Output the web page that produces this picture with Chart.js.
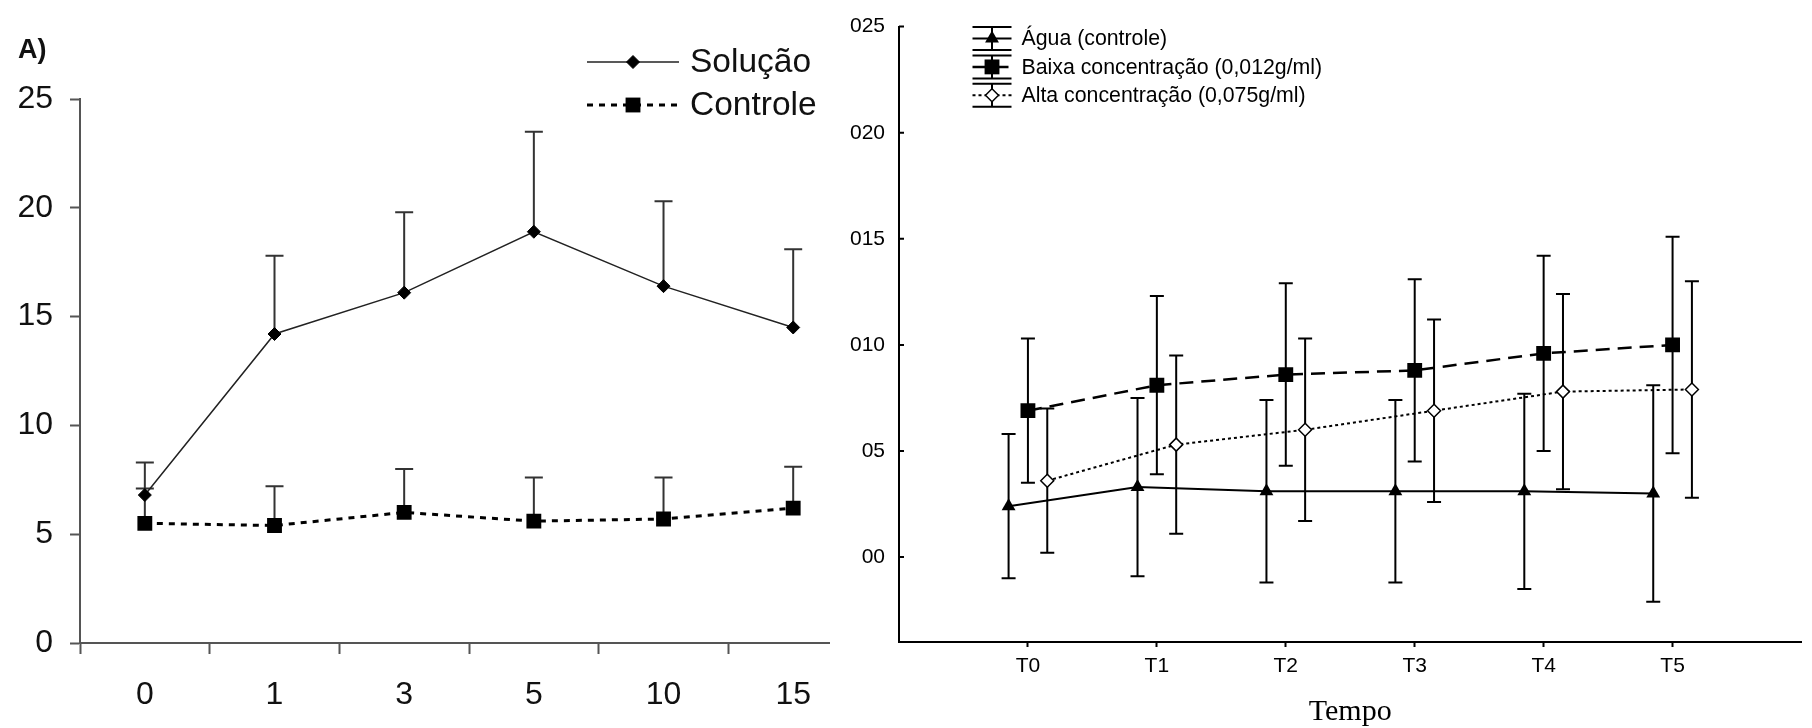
<!DOCTYPE html>
<html>
<head>
<meta charset="utf-8">
<title>Gráficos</title>
<script src="https://cdn.jsdelivr.net/npm/chart.js@4.4.1/dist/chart.umd.min.js"></script>
<style>
  body { margin: 0; background: #fff; }
  #graficoA { position: absolute; left: 0; top: 0; }
  #graficoB { position: absolute; left: 840px; top: 0; }
</style>
</head>
<body>
<canvas id="graficoA" width="840" height="728"></canvas>
<canvas id="graficoB" width="972" height="728"></canvas>
<script>
// Gráfico A (dias)
const diasLabels = ['0', '1', '3', '5', '10', '15'];
const solucao = [6.8, 14.2, 16.1, 18.9, 16.4, 14.5];
const solucaoErro = [1.5, 3.6, 3.7, 4.6, 3.9, 3.6];
const controle = [5.5, 5.4, 6.0, 5.6, 5.7, 6.2];
const controleErro = [1.6, 1.8, 2.0, 2.0, 1.9, 1.9];
const yTicksA = [0, 5, 10, 15, 20, 25];

// Gráfico B (tempos)
const tempos = ['T0', 'T1', 'T2', 'T3', 'T4', 'T5'];
const yTicksB = [0, 5, 10, 15, 20, 25];
const yLabelsB = ['00', '05', '010', '015', '020', '025'];
const agua = [2.4, 3.3, 3.1, 3.1, 3.1, 3.0];
const aguaErro = [3.4, 4.2, 4.3, 4.3, 4.6, 5.1];
const baixa = [6.9, 8.1, 8.6, 8.8, 9.6, 10.0];
const baixaErro = [3.4, 4.2, 4.3, 4.3, 4.6, 5.1];
const alta = [3.6, 5.3, 6.0, 6.9, 7.8, 7.9];
const altaErro = [3.4, 4.2, 4.3, 4.3, 4.6, 5.1];

const fonteSans = '"Liberation Sans", Arial, sans-serif';

// desenha um marcador simples
function marcador(ctx, estilo, r, x, y, fundo, borda, larg) {
    ctx.save();
    ctx.setLineDash([]);
    ctx.fillStyle = fundo;
    ctx.strokeStyle = borda;
    ctx.lineWidth = larg;
    ctx.beginPath();
    if (estilo === 'rect') {
        const s = r * Math.SQRT1_2;
        ctx.rect(x - s, y - s, 2 * s, 2 * s);
    } else if (estilo === 'rectRot') {
        ctx.moveTo(x - r, y); ctx.lineTo(x, y - r); ctx.lineTo(x + r, y); ctx.lineTo(x, y + r);
        ctx.closePath();
    } else {
        ctx.moveTo(x, y - r);
        ctx.lineTo(x + r * 0.866, y + r / 2);
        ctx.lineTo(x - r * 0.866, y + r / 2);
        ctx.closePath();
    }
    ctx.fill();
    if (larg > 0) ctx.stroke();
    ctx.restore();
}

// barras de erro a partir dos dados de cada série
const barrasErro = {
    id: 'barrasErro',
    beforeDatasetsDraw(chart) {
        const ctx = chart.ctx;
        const xs = chart.scales.x;
        const ys = chart.scales.y;
        chart.data.datasets.forEach(ds => {
            if (!ds.erro) return;
            ctx.save();
            ctx.strokeStyle = ds.corErro;
            ctx.lineWidth = 2;
            ds.data.forEach((p, i) => {
                const x = xs.getPixelForValue(p.x);
                const yTop = ys.getPixelForValue(p.y + ds.erro[i]);
                const yBot = ys.getPixelForValue(ds.soSuperior ? p.y : p.y - ds.erro[i]);
                ctx.beginPath();
                ctx.moveTo(x, yTop); ctx.lineTo(x, yBot);
                ctx.moveTo(x - ds.capa, yTop); ctx.lineTo(x + ds.capa, yTop);
                if (!ds.soSuperior) {
                    ctx.moveTo(x - ds.capa, yBot); ctx.lineTo(x + ds.capa, yBot);
                }
                ctx.stroke();
            });
            ctx.restore();
        });
    }
};

// ---------- Gráfico A ----------
const legendaA = {
    id: 'legendaA',
    afterDraw(chart) {
        const ctx = chart.ctx;
        ctx.save();
        ctx.fillStyle = '#111';
        ctx.font = 'bold 27px ' + fonteSans;
        ctx.textBaseline = 'middle';
        ctx.fillText('A)', 18, 51);
        chart.data.datasets.forEach((ds, i) => {
            const y = 62 + i * 43;
            ctx.strokeStyle = ds.borderColor;
            ctx.lineWidth = ds.borderWidth;
            ctx.setLineDash(ds.borderDash || []);
            ctx.beginPath();
            ctx.moveTo(587, y); ctx.lineTo(679, y);
            ctx.stroke();
            marcador(ctx, ds.pointStyle, ds.pointRadius, 633, y, ds.pointBackgroundColor, ds.pointBorderColor, ds.pointBorderWidth);
            ctx.fillStyle = '#111';
            ctx.font = '33.5px ' + fonteSans;
            ctx.fillText(ds.label, 690, y + 1);
        });
        ctx.restore();
    }
};

const ticksXA = diasLabels.flatMap((_, i) => [i - 0.5, i]);

new Chart(document.getElementById('graficoA'), {
    type: 'line',
    data: {
        datasets: [{
            label: 'Solução',
            data: solucao.map((v, i) => ({ x: i, y: v })),
            erro: solucaoErro,
            soSuperior: true,
            corErro: '#333',
            capa: 9,
            borderColor: '#222',
            borderWidth: 1.5,
            pointStyle: 'rectRot',
            pointRadius: 6.5,
            pointBackgroundColor: '#000',
            pointBorderColor: '#000',
            pointBorderWidth: 1,
            tension: 0
        }, {
            label: 'Controle',
            data: controle.map((v, i) => ({ x: i, y: v })),
            erro: controleErro,
            soSuperior: true,
            corErro: '#333',
            capa: 9,
            borderColor: '#000',
            borderWidth: 3,
            borderDash: [6, 6],
            pointStyle: 'rect',
            pointRadius: 10.5,
            pointBackgroundColor: '#000',
            pointBorderColor: '#000',
            pointBorderWidth: 0,
            tension: 0
        }]
    },
    options: {
        responsive: false,
        animation: false,
        layout: { padding: { top: 99, right: 9, left: 0, bottom: 0 } },
        plugins: { legend: { display: false }, tooltip: { enabled: false } },
        scales: {
            x: {
                type: 'linear',
                min: -0.5,
                max: 5.28,
                afterBuildTicks: s => { s.ticks = ticksXA.map(v => ({ value: v })); },
                afterFit: s => { s.height = 85; },
                grid: {
                    drawOnChartArea: false,
                    tickLength: 11,
                    tickWidth: 2,
                    tickColor: c => Number.isInteger(c.tick.value) ? 'rgba(0,0,0,0)' : '#555'
                },
                border: { color: '#555', width: 2 },
                ticks: {
                    autoSkip: false,
                    maxRotation: 0,
                    padding: 22,
                    color: '#111',
                    font: { family: fonteSans, size: 32 },
                    callback: v => Number.isInteger(v) ? diasLabels[v] : ''
                }
            },
            y: {
                min: 0,
                max: 25,
                afterBuildTicks: s => { s.ticks = yTicksA.map(v => ({ value: v })); },
                afterFit: s => { s.width = 80; },
                grid: { drawOnChartArea: false, tickLength: 10, tickWidth: 2, tickColor: '#555' },
                border: { color: '#555', width: 2 },
                ticks: {
                    padding: 17,
                    color: '#111',
                    font: { family: fonteSans, size: 32 }
                }
            }
        }
    },
    plugins: [barrasErro, legendaA]
});

// ---------- Gráfico B ----------
const deslocamento = [-0.15, 0, 0.15];

const legendaB = {
    id: 'legendaB',
    afterDraw(chart) {
        const ctx = chart.ctx;
        ctx.save();
        // pequenos traços para dentro no eixo y
        const ys = chart.scales.y;
        ctx.strokeStyle = '#000';
        ctx.lineWidth = 2;
        ctx.beginPath();
        yTicksB.forEach(v => {
            const y = ys.getPixelForValue(v);
            ctx.moveTo(ys.right, y); ctx.lineTo(ys.right + 5, y);
        });
        ctx.stroke();

        chart.data.datasets.forEach((ds, i) => {
            const y = 38.5 + i * 28.4;
            const cx = 152;
            ctx.strokeStyle = '#000';
            ctx.lineWidth = 2;
            ctx.setLineDash([]);
            ctx.beginPath();
            ctx.moveTo(cx, y - 11.5); ctx.lineTo(cx, y + 11.5);
            ctx.moveTo(cx - 19.5, y - 11.5); ctx.lineTo(cx + 19.5, y - 11.5);
            ctx.moveTo(cx - 19.5, y + 11.5); ctx.lineTo(cx + 19.5, y + 11.5);
            ctx.stroke();
            ctx.lineWidth = ds.borderWidth;
            ctx.setLineDash(ds.borderDash || []);
            ctx.beginPath();
            ctx.moveTo(cx - 19.5, y); ctx.lineTo(cx + 19.5, y);
            ctx.stroke();
            marcador(ctx, ds.pointStyle, ds.pointRadius, cx, y, ds.pointBackgroundColor, ds.pointBorderColor, ds.pointBorderWidth);
            ctx.fillStyle = '#000';
            ctx.font = '21.3px ' + fonteSans;
            ctx.textBaseline = 'middle';
            ctx.fillText(ds.label, 181.5, y + 1);
        });
        ctx.restore();
    }
};

new Chart(document.getElementById('graficoB'), {
    type: 'line',
    data: {
        datasets: [{
            label: 'Água (controle)',
            data: agua.map((v, i) => ({ x: i + deslocamento[0], y: v })),
            erro: aguaErro,
            corErro: '#000',
            capa: 7,
            borderColor: '#000',
            borderWidth: 2,
            pointStyle: 'triangle',
            pointRadius: 8,
            pointBackgroundColor: '#000',
            pointBorderColor: '#000',
            pointBorderWidth: 0,
            tension: 0
        }, {
            label: 'Baixa concentração (0,012g/ml)',
            data: baixa.map((v, i) => ({ x: i + deslocamento[1], y: v })),
            erro: baixaErro,
            corErro: '#000',
            capa: 7,
            borderColor: '#000',
            borderWidth: 2.5,
            borderDash: [14, 8],
            pointStyle: 'rect',
            pointRadius: 10.5,
            pointBackgroundColor: '#000',
            pointBorderColor: '#000',
            pointBorderWidth: 0,
            tension: 0
        }, {
            label: 'Alta concentração (0,075g/ml)',
            data: alta.map((v, i) => ({ x: i + deslocamento[2], y: v })),
            erro: altaErro,
            corErro: '#000',
            capa: 7,
            borderColor: '#000',
            borderWidth: 2,
            borderDash: [3, 3],
            pointStyle: 'rectRot',
            pointRadius: 6.5,
            pointBackgroundColor: '#fff',
            pointBorderColor: '#000',
            pointBorderWidth: 1.5,
            tension: 0
        }]
    },
    options: {
        responsive: false,
        animation: false,
        layout: { padding: { top: 20, right: 0, left: 0, bottom: 0 } },
        plugins: { legend: { display: false }, tooltip: { enabled: false } },
        scales: {
            x: {
                type: 'linear',
                min: -1,
                max: 6,
                afterBuildTicks: s => { s.ticks = tempos.map((_, i) => ({ value: i })); },
                afterFit: s => { s.height = 86; },
                grid: { drawOnChartArea: false, tickLength: 5, tickWidth: 2, tickColor: '#000' },
                border: { color: '#000', width: 2 },
                ticks: {
                    autoSkip: false,
                    maxRotation: 0,
                    padding: 7,
                    color: '#000',
                    font: { family: fonteSans, size: 21 },
                    callback: v => tempos[v]
                },
                title: {
                    display: true,
                    text: 'Tempo',
                    color: '#000',
                    padding: 0,
                    font: { family: '"Liberation Serif", "Times New Roman", serif', size: 30, lineHeight: 1.05 }
                }
            },
            y: {
                min: -4,
                max: 25,
                afterBuildTicks: s => { s.ticks = yTicksB.map(v => ({ value: v })); },
                afterFit: s => { s.width = 59; },
                grid: { drawOnChartArea: false, drawTicks: false },
                border: { color: '#000', width: 2 },
                ticks: {
                    padding: 14,
                    color: '#000',
                    font: { family: fonteSans, size: 21 },
                    callback: (v, i) => yLabelsB[i]
                }
            }
        }
    },
    plugins: [barrasErro, legendaB]
});
</script>
</body>
</html>
